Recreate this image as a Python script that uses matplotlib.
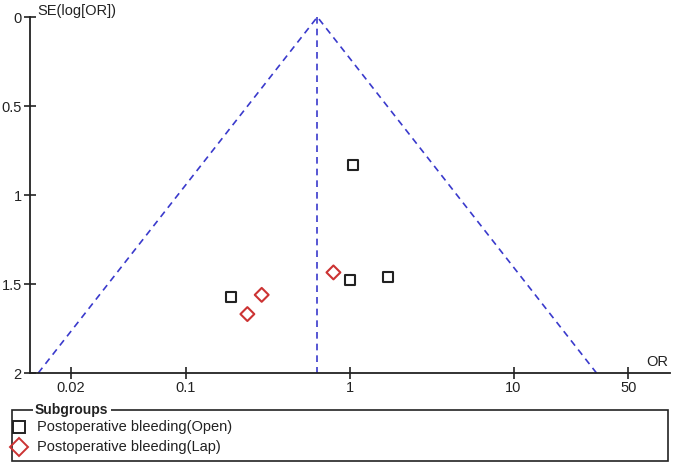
import numpy as np
import matplotlib
matplotlib.use("Agg")
import matplotlib.pyplot as plt
from matplotlib.patches import Rectangle
from matplotlib.lines import Line2D

plt.rcParams['font.family'] = ['Liberation Sans', 'DejaVu Sans']

# Data
open_or = [1.055, 1.0, 1.72, 0.189]
open_se = [0.834, 1.478, 1.459, 1.572]
lap_or = [0.797, 0.291, 0.238]
lap_se = [1.435, 1.561, 1.669]
pooled_or = 0.636
xticks = [0.02, 0.1, 1, 10, 50]
xtick_labels = ["0.02", "0.1", "1", "10", "50"]
yticks = [0, 0.5, 1, 1.5, 2]
ytick_labels = ["0", "0.5", "1", "1.5", "2"]
legend_labels = ["Postoperative bleeding(Open)", "Postoperative bleeding(Lap)"]

W, H = 675, 465
fig = plt.figure(figsize=(W / 100, H / 100), dpi=100)
ax = fig.add_axes([29.5 / W, 1 - 373 / H, (670 - 29.5) / W, (373 - 17) / H])

ax.set_xscale('log')
ax.set_xlim(0.01116, 90)
ax.set_ylim(2, 0)

blue = '#3a3acc'
se_max = 2.0
lo = pooled_or * np.exp(-1.96 * se_max)
hi = pooled_or * np.exp(1.96 * se_max)
ax.plot([lo, pooled_or, hi], [se_max, 0, se_max], ls=(0, (4, 3)), color=blue, lw=1.2, clip_on=False)
ax.plot([pooled_or, pooled_or], [0, se_max], ls=(0, (4, 3)), color=blue, lw=1.2, clip_on=False)

ax.scatter(open_or, open_se, marker='s', s=52, facecolors='none', edgecolors='#222222', linewidths=1.5, zorder=3)
ax.scatter(lap_or, lap_se, marker='D', s=50, facecolors='none', edgecolors='#cc3333', linewidths=1.5, zorder=3)

for s in ['top', 'right']:
    ax.spines[s].set_visible(False)
for s in ['left', 'bottom']:
    ax.spines[s].set_linewidth(1.3)
    ax.spines[s].set_color('#222222')

ax.set_xticks(xticks)
ax.set_xticklabels(xtick_labels)
ax.minorticks_off()
ax.set_yticks(yticks)
ax.set_yticklabels(ytick_labels)
ax.tick_params(axis='both', direction='inout', length=9, width=1.2, colors='#222222', labelsize=10.5)
ax.tick_params(axis='x', pad=1)
ax.tick_params(axis='y', pad=1)

fig.text(37 / W, 1 - 11 / H, "SE(log[OR])", fontsize=10.5, ha='left', va='center', color='#222222')
fig.text(668 / W, 1 - 362 / H, "OR", fontsize=10.5, ha='right', va='center', color='#222222')

# Legend box
rect = Rectangle((11.7 / W, 1 - 461 / H), (668 - 11.7) / W, (461 - 410) / H,
                 transform=fig.transFigure, fill=False, edgecolor='#222222', lw=1.2)
fig.add_artist(rect)
fig.text(35 / W, 1 - 410 / H, "Subgroups", fontsize=10, fontweight='bold', ha='left', va='center',
         color='#222222', bbox=dict(facecolor='white', edgecolor='none', pad=1.5))
y1 = 1 - 427 / H
y2 = 1 - 447 / H
fig.add_artist(Line2D([19 / W], [y1], marker='s', markersize=8.5, markerfacecolor='none',
                      markeredgecolor='#222222', markeredgewidth=1.4, transform=fig.transFigure))
fig.add_artist(Line2D([19 / W], [y2], marker='D', markersize=9.5, markerfacecolor='none',
                      markeredgecolor='#cc3333', markeredgewidth=1.4, transform=fig.transFigure))
fig.text(37 / W, y1, legend_labels[0], fontsize=10.5, ha='left', va='center', color='#222222')
fig.text(37 / W, y2, legend_labels[1], fontsize=10.5, ha='left', va='center', color='#222222')

fig.savefig('out.png', dpi=100)
